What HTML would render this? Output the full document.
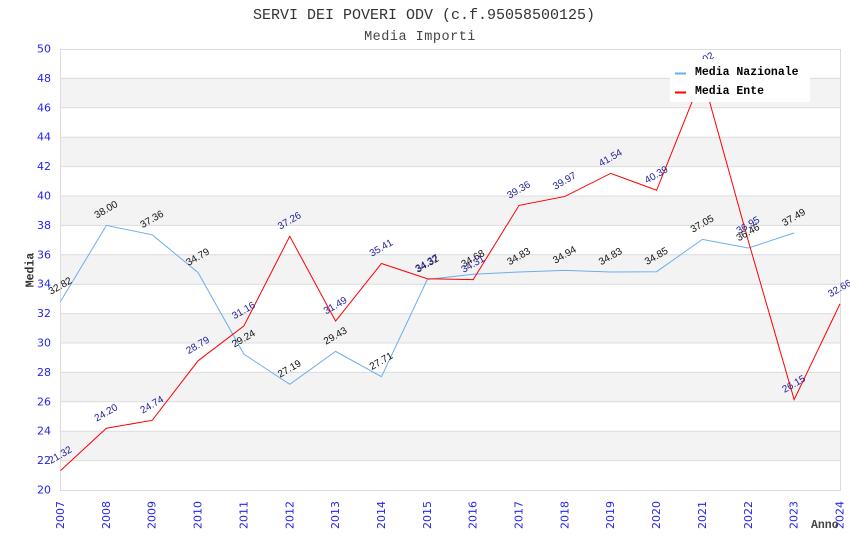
<!DOCTYPE html>
<html><head><meta charset="utf-8"><style>
html,body{margin:0;padding:0;background:#fff;width:850px;height:550px;overflow:hidden}
svg{display:block}
.yt{font-family:"DejaVu Sans","Liberation Sans",sans-serif;font-size:11px;fill:#2424f0}
.lb{font-family:"Liberation Sans","DejaVu Sans",sans-serif;font-size:10px}
.bk{fill:#111}
.nv{fill:#22229a}
.mono{font-family:"Liberation Mono","DejaVu Sans Mono",monospace}
</style></head><body>
<svg width="850" height="550" viewBox="0 0 850 550" xmlns="http://www.w3.org/2000/svg">
<rect width="850" height="550" fill="#fff"/>
<g fill="#f3f3f3">
<rect x="60.5" y="431.2" width="779.5" height="29.4"/>
<rect x="60.5" y="372.4" width="779.5" height="29.4"/>
<rect x="60.5" y="313.6" width="779.5" height="29.4"/>
<rect x="60.5" y="254.8" width="779.5" height="29.4"/>
<rect x="60.5" y="196" width="779.5" height="29.4"/>
<rect x="60.5" y="137.2" width="779.5" height="29.4"/>
<rect x="60.5" y="78.4" width="779.5" height="29.4"/>
</g>
<g stroke="#dcdcdc" stroke-width="1">
<line x1="60.5" x2="840" y1="49.5" y2="49.5"/>
<line x1="60.5" x2="840" y1="78.4" y2="78.4"/>
<line x1="60.5" x2="840" y1="107.8" y2="107.8"/>
<line x1="60.5" x2="840" y1="137.2" y2="137.2"/>
<line x1="60.5" x2="840" y1="166.6" y2="166.6"/>
<line x1="60.5" x2="840" y1="196" y2="196"/>
<line x1="60.5" x2="840" y1="225.4" y2="225.4"/>
<line x1="60.5" x2="840" y1="254.8" y2="254.8"/>
<line x1="60.5" x2="840" y1="284.2" y2="284.2"/>
<line x1="60.5" x2="840" y1="313.6" y2="313.6"/>
<line x1="60.5" x2="840" y1="343" y2="343"/>
<line x1="60.5" x2="840" y1="372.4" y2="372.4"/>
<line x1="60.5" x2="840" y1="401.8" y2="401.8"/>
<line x1="60.5" x2="840" y1="431.2" y2="431.2"/>
<line x1="60.5" x2="840" y1="460.6" y2="460.6"/>
<line x1="60.5" x2="840" y1="490.5" y2="490.5"/>
<line x1="60.5" x2="60.5" y1="49" y2="491"/>
<line x1="840.5" x2="840.5" y1="49" y2="491"/>
</g>
<g class="yt" text-anchor="end" dominant-baseline="central">
<text x="51" y="49">50</text>
<text x="51" y="78.4">48</text>
<text x="51" y="107.8">46</text>
<text x="51" y="137.2">44</text>
<text x="51" y="166.6">42</text>
<text x="51" y="196">40</text>
<text x="51" y="225.4">38</text>
<text x="51" y="254.8">36</text>
<text x="51" y="284.2">34</text>
<text x="51" y="313.6">32</text>
<text x="51" y="343">30</text>
<text x="51" y="372.4">28</text>
<text x="51" y="401.8">26</text>
<text x="51" y="431.2">24</text>
<text x="51" y="460.6">22</text>
<text x="51" y="490">20</text>
</g>
<g class="yt" text-anchor="end" dominant-baseline="central">
<text transform="translate(60.5,501) rotate(-90)">2007</text>
<text transform="translate(106.35,501) rotate(-90)">2008</text>
<text transform="translate(152.21,501) rotate(-90)">2009</text>
<text transform="translate(198.06,501) rotate(-90)">2010</text>
<text transform="translate(243.91,501) rotate(-90)">2011</text>
<text transform="translate(289.76,501) rotate(-90)">2012</text>
<text transform="translate(335.62,501) rotate(-90)">2013</text>
<text transform="translate(381.47,501) rotate(-90)">2014</text>
<text transform="translate(427.32,501) rotate(-90)">2015</text>
<text transform="translate(473.18,501) rotate(-90)">2016</text>
<text transform="translate(519.03,501) rotate(-90)">2017</text>
<text transform="translate(564.88,501) rotate(-90)">2018</text>
<text transform="translate(610.74,501) rotate(-90)">2019</text>
<text transform="translate(656.59,501) rotate(-90)">2020</text>
<text transform="translate(702.44,501) rotate(-90)">2021</text>
<text transform="translate(748.29,501) rotate(-90)">2022</text>
<text transform="translate(794.15,501) rotate(-90)">2023</text>
<text transform="translate(840,501) rotate(-90)">2024</text>
</g>
<text class="mono" x="424" y="19" text-anchor="middle" font-size="15" fill="#333">SERVI DEI POVERI ODV (c.f.95058500125)</text>
<text class="mono" x="420" y="40" text-anchor="middle" font-size="13.5" fill="#444" letter-spacing="0.5">Media Importi</text>
<text class="mono" transform="translate(33.5,270) rotate(-90)" text-anchor="middle" font-size="11.5" font-weight="bold" fill="#333">Media</text>
<text class="mono" x="811" y="528" font-size="11.5" font-weight="bold" fill="#444">Anno</text>
<polyline fill="none" stroke="#6aaef0" stroke-width="1" points="60.5,301.55 106.35,225.4 152.21,234.81 198.06,272.59 243.91,354.17 289.76,384.31 335.62,351.38 381.47,376.66 427.32,279.5 473.18,274.2 519.03,272 564.88,270.38 610.74,272 656.59,271.7 702.44,239.36 748.29,248.04 794.15,232.9"/>
<polyline fill="none" stroke="#ff0000" stroke-width="1" points="60.5,470.6 106.35,428.26 152.21,420.32 198.06,360.79 243.91,325.95 289.76,236.28 335.62,321.1 381.47,263.47 427.32,278.76 473.18,279.64 519.03,205.41 564.88,196.44 610.74,173.36 656.59,190.27 702.44,76 748.29,240.83 794.15,399.6 840,303.9"/>
<g class="lb bk" text-anchor="middle" dominant-baseline="central">
<text transform="translate(60.5,286.5) rotate(-30)">32.82</text>
<text transform="translate(106.35,210.2) rotate(-30)">38.00</text>
<text transform="translate(152.21,219.8) rotate(-30)">37.36</text>
<text transform="translate(198.06,257.6) rotate(-30)">34.79</text>
<text transform="translate(243.91,339.2) rotate(-30)">29.24</text>
<text transform="translate(289.76,369.3) rotate(-30)">27.19</text>
<text transform="translate(335.62,336.4) rotate(-30)">29.43</text>
<text transform="translate(381.47,361.7) rotate(-30)">27.71</text>
<text transform="translate(427.32,264.5) rotate(-30)">34.32</text>
<text transform="translate(473.18,259.2) rotate(-30)">34.68</text>
<text transform="translate(519.03,257) rotate(-30)">34.83</text>
<text transform="translate(564.88,255.4) rotate(-30)">34.94</text>
<text transform="translate(610.74,257) rotate(-30)">34.83</text>
<text transform="translate(656.59,256.7) rotate(-30)">34.85</text>
<text transform="translate(702.44,224.4) rotate(-30)">37.05</text>
<text transform="translate(748.29,233) rotate(-30)">36.46</text>
<text transform="translate(794.15,217.9) rotate(-30)">37.49</text>
</g>
<g class="lb nv" text-anchor="middle" dominant-baseline="central">
<text transform="translate(60.5,455.6) rotate(-30)">21.32</text>
<text transform="translate(106.35,413.3) rotate(-30)">24.20</text>
<text transform="translate(152.21,405.3) rotate(-30)">24.74</text>
<text transform="translate(198.06,345.8) rotate(-30)">28.79</text>
<text transform="translate(243.91,311) rotate(-30)">31.16</text>
<text transform="translate(289.76,221.3) rotate(-30)">37.26</text>
<text transform="translate(335.62,306.1) rotate(-30)">31.49</text>
<text transform="translate(381.47,248.5) rotate(-30)">35.41</text>
<text transform="translate(427.32,263.8) rotate(-30)">34.37</text>
<text transform="translate(473.18,264.6) rotate(-30)">34.31</text>
<text transform="translate(519.03,190.4) rotate(-30)">39.36</text>
<text transform="translate(564.88,181.4) rotate(-30)">39.97</text>
<text transform="translate(610.74,158.4) rotate(-30)">41.54</text>
<text transform="translate(656.59,175.3) rotate(-30)">40.39</text>
<text transform="translate(702.44,61.5) rotate(-30)">48.02</text>
<text transform="translate(748.29,225.8) rotate(-30)">36.95</text>
<text transform="translate(794.15,384.6) rotate(-30)">26.15</text>
<text transform="translate(840,288.9) rotate(-30)">32.66</text>
</g>
<rect x="670" y="59" width="140" height="43" fill="#fff"/>
<rect x="675" y="72.5" width="11" height="2" fill="#6aaef0"/>
<rect x="675" y="91.5" width="11" height="2" fill="#ff0000"/>
<text class="mono" x="695" y="75" font-size="11.5" font-weight="bold" fill="#000">Media Nazionale</text>
<text class="mono" x="695" y="94" font-size="11.5" font-weight="bold" fill="#000">Media Ente</text>
</svg>
</body></html>
